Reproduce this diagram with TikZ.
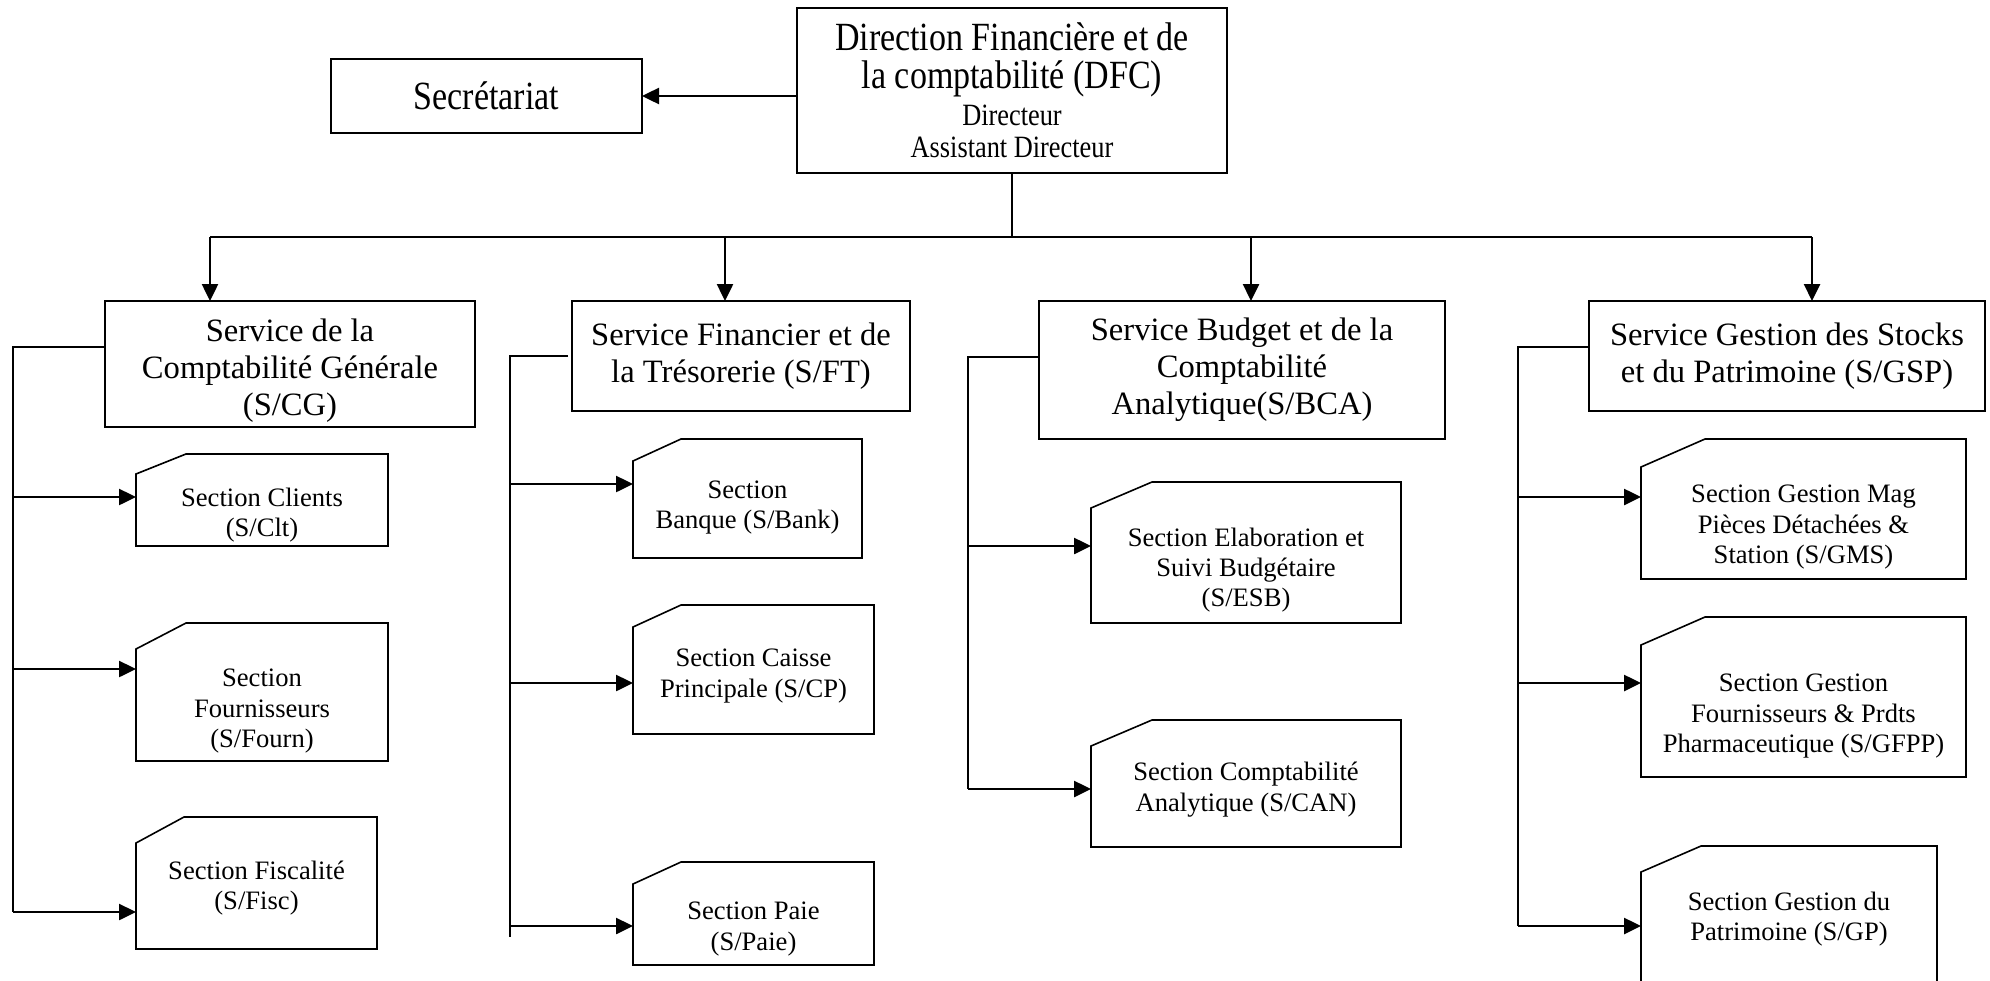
\documentclass[tikz,border=0pt]{standalone}
\usepackage{fontspec}
\setmainfont{Liberation Serif}
\newfontfamily\narrowserif[FakeStretch=0.85]{Liberation Serif}
\usetikzlibrary{arrows.meta}
% first line strut: pushes the text of a box down by #1
\newcommand{\topgap}[1]{\rule{0pt}{\dimexpr 9.1pt+#1*2\relax}}

\begin{document}
\begin{tikzpicture}[x=0.5pt, y=-0.5pt,
                box/.style={rectangle, draw, line width=0.8pt, align=center, inner sep=0pt, outer sep=0pt},
                service/.style={box, font=\fontsize{16.3}{18.4}\selectfont},
                section/.style={rectangle, align=center, inner sep=0pt, outer sep=0pt, font=\fontsize{13.3}{15.2}\selectfont},
                bus/.style={line width=1.25pt},
                link/.style={bus, -{Triangle[length=8.5pt, width=8pt]}}]

                \useasboundingbox (0,0) rectangle (1990,980);

                % direction
                \node[box, font=\narrowserif\fontsize{20}{19}\selectfont, minimum width=215pt, minimum height=82.5pt] (dfc) at (1012,90.5)
                    {Direction Financière et de\\la comptabilité (DFC)\\[-0.5pt]{\fontsize{15.5}{16}\selectfont Directeur}\\[-3pt]{\fontsize{15.5}{16}\selectfont Assistant Directeur}};
                \node[box, font=\narrowserif\fontsize{20}{24}\selectfont, minimum width=155.5pt, minimum height=37pt] (secr) at (486.5,96) {Secrétariat};

                % services
                \node[service, minimum width=185pt, minimum height=63pt] (cg) at (290,364) {\rule{0pt}{18pt}Service de la\\Comptabilité Générale\\(S/CG)};
                \node[service, minimum width=169pt, minimum height=55pt] (ft) at (741,356) {Service Financier et de\\la Trésorerie (S/FT)};
                \node[service, minimum width=203pt, minimum height=69pt] (bca) at (1242,370) {Service Budget et de la\\Comptabilité\\Analytique(S/BCA)};
                \node[service, minimum width=198pt, minimum height=55pt] (gsp) at (1787,356) {Service Gestion des Stocks\\et du Patrimoine (S/GSP)};

                % sections
                \node[section, minimum width=126pt, minimum height=46pt] (clt) at (262,500) {\topgap{7.5pt}Section Clients\\(S/Clt)};
                \node[section, minimum width=126pt, minimum height=69pt] (fourn) at (262,692) {\topgap{9.5pt}Section\\Fournisseurs\\(S/Fourn)};
                \node[section, minimum width=120.5pt, minimum height=66pt] (fisc) at (256.5,883) {\topgap{2.5pt}Section Fiscalité\\(S/Fisc)};
                \node[section, minimum width=114.5pt, minimum height=59.5pt] (bank) at (747.5,498.5) {\topgap{4.4pt}Section\\Banque (S/Bank)};
                \node[section, minimum width=120.5pt, minimum height=64.5pt] (cp) at (753.5,669.5) {\topgap{3.2pt}Section Caisse\\Principale (S/CP)};
                \node[section, minimum width=120.5pt, minimum height=51.5pt] (paie) at (753.5,913.5) {\topgap{7.6pt}Section Paie\\(S/Paie)};
                \node[section, minimum width=155pt, minimum height=70.5pt] (esb) at (1246,552.5) {\topgap{8.9pt}Section Elaboration et\\Suivi Budgétaire\\(S/ESB)};
                \node[section, minimum width=155pt, minimum height=63.5pt] (can) at (1246,783.5) {\topgap{3.2pt}Section Comptabilité\\Analytique (S/CAN)};
                \node[section, minimum width=162.5pt, minimum height=70pt] (gms) at (1803.5,509) {\topgap{8.9pt}Section Gestion Mag\\Pièces Détachées \&\\Station (S/GMS)};
                \node[section, minimum width=162.5pt, minimum height=80pt] (gfpp) at (1803.5,697) {\topgap{9.5pt}Section Gestion\\Fournisseurs \& Prdts\\Pharmaceutique (S/GFPP)};
                \node[section, minimum width=148pt, minimum height=73pt] (gp) at (1789,919) {Section Gestion du\\Patrimoine (S/GP)};

                % cut corner outlines
                \foreach \n/\a/\b in {clt/25/10, fourn/25/13, fisc/24/13, bank/24/11, cp/24/11, paie/24/11,
                                      esb/30.5/13, can/30.5/13, gms/32/14, gfpp/32/14, gp/30/13}
                    \draw[line width=0.8pt] ([yshift=-\b pt]\n.north west) -- ([xshift=\a pt]\n.north west)
                        -- (\n.north east) -- (\n.south east) -- (\n.south west) -- cycle;

                % top links
                \coordinate (dcg) at (210,237);
                \coordinate (dft) at (725,237);
                \coordinate (dbca) at (1251,237);
                \coordinate (dgsp) at (1812,237);
                \draw[link] (dfc.west |- secr.east) -- (secr.east);
                \draw[line width=0.6pt] (dfc.south) -- (dfc.south |- dcg);
                \draw[bus] (dcg) -- (dgsp);
                \foreach \d/\s in {dcg/cg, dft/ft, dbca/bca, dgsp/gsp}
                    \draw[link] (\d) -- (\d |- \s.north);

                % side buses
                \coordinate (cgend) at (13,912);
                \coordinate (ftend) at (510,937);
                \coordinate (bcaend) at (968,789);
                \coordinate (gspend) at (1518,926);
                \draw[bus] ([yshift=8.5pt]cg.west) -| (cgend);
                \draw[bus] ([xshift=-2pt]ft.west) -| (ftend);
                \draw[bus] ([yshift=6.5pt]bca.west) -| (bcaend);
                \draw[bus] ([yshift=4.5pt]gsp.west) -| (gspend);
                \foreach \n/\s/\e in {clt/1.5/cgend, fourn/11.5/cgend, fisc/-14.5/cgend,
                                      bank/7.25/ftend, cp/-6.75/ftend, paie/-6.25/ftend,
                                      esb/3.25/bcaend, can/-2.75/bcaend,
                                      gms/6/gspend, gfpp/7/gspend, gp/-3.5/gspend} {
                    \path ([yshift=\s pt]\n.west) coordinate (t);
                    \draw[link] (\e |- t) -- (t);
                }
            \end{tikzpicture}
\end{document}
